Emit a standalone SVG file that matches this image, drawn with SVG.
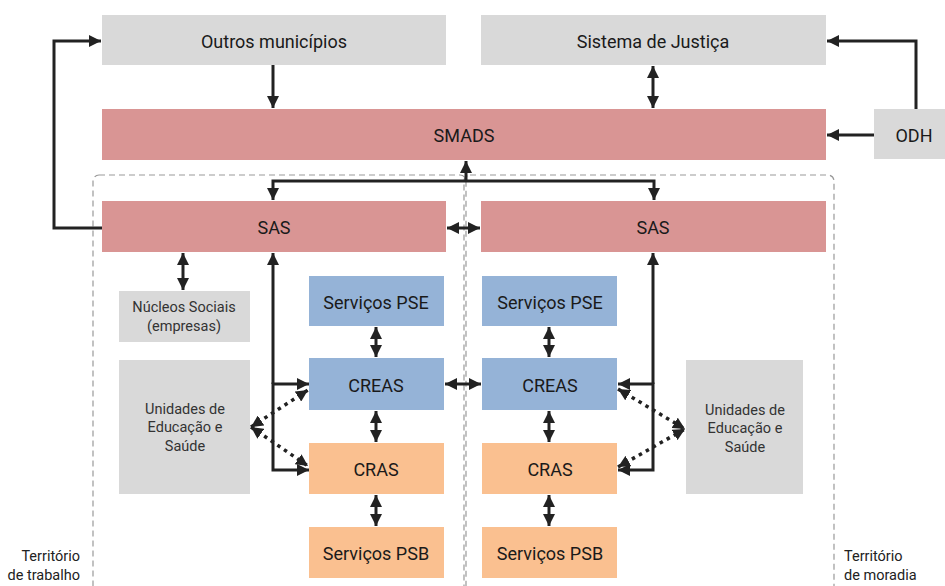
<svg xmlns="http://www.w3.org/2000/svg" width="945" height="586" viewBox="0 0 945 586">
<defs>
<style>
.t{font-family:Roboto,"Liberation Sans",sans-serif;font-size:18px;fill:#1a1a1a;text-anchor:middle;dominant-baseline:central}
.s{font-size:14.5px;fill:#333}
.g{fill:#d9d9d9}
.r{fill:#d99594}
.b{fill:#95b3d7}
.o{fill:#fac090}
.c{fill:none;stroke:#222;stroke-width:3}
.d{fill:none;stroke:#222;stroke-width:3.5;stroke-dasharray:3.5 4.5}
.frame{fill:none;stroke:#999;stroke-width:1.2;stroke-dasharray:6 4}
.lab{font-family:Roboto,"Liberation Sans",sans-serif;font-size:14.5px;fill:#222}
</style>
<marker id="a" viewBox="0 0 10 10" refX="10" refY="5" markerWidth="12" markerHeight="12" markerUnits="userSpaceOnUse" orient="auto-start-reverse">
<path d="M0,0 L10,5 L0,10 z" fill="#222"/>
</marker>
</defs>
<rect x="0" y="0" width="945" height="586" fill="#fff"/>
<g id="frames">
<rect class="frame" x="93" y="175" width="373" height="430" rx="6"/>
<rect class="frame" x="464" y="175" width="370" height="430" rx="6"/>
</g>
<g id="outros"><rect class="g" x="102" y="15" width="344" height="50"/><text class="t" x="274" y="41">Outros municípios</text></g>
<g id="justica"><rect class="g" x="481" y="15" width="345" height="50"/><text class="t" x="653" y="41">Sistema de Justiça</text></g>
<g id="smads"><rect class="r" x="102" y="109" width="724" height="51"/><text class="t" x="464" y="135">SMADS</text></g>
<g id="odh"><rect class="g" x="874" y="109" width="71" height="50"/><text class="t" x="914" y="135">ODH</text></g>
<g id="sas1"><rect class="r" x="102" y="201" width="344" height="51"/><text class="t" x="274" y="227">SAS</text></g>
<g id="sas2"><rect class="r" x="481" y="201" width="345" height="51"/><text class="t" x="653" y="227">SAS</text></g>
<g id="nucleos"><rect class="g" x="119" y="291" width="131" height="51"/><text class="t s" x="184" y="307">Núcleos Sociais</text><text class="t s" x="184" y="326">(empresas)</text></g>
<g id="unid1"><rect class="g" x="119" y="360" width="131" height="134"/><text class="t s" x="185" y="409">Unidades de</text><text class="t s" x="185" y="427">Educação e</text><text class="t s" x="185" y="446">Saúde</text></g>
<g id="unid2"><rect class="g" x="686" y="360" width="117" height="134"/><text class="t s" x="745" y="410">Unidades de</text><text class="t s" x="745" y="428">Educação e</text><text class="t s" x="745" y="447">Saúde</text></g>
<g id="pse1"><rect class="b" x="309" y="276" width="135" height="50"/><text class="t" x="376" y="302">Serviços PSE</text></g>
<g id="creas1"><rect class="b" x="309" y="358" width="135" height="52"/><text class="t" x="376" y="385">CREAS</text></g>
<g id="cras1"><rect class="o" x="309" y="443" width="135" height="51"/><text class="t" x="376" y="469">CRAS</text></g>
<g id="psb1"><rect class="o" x="309" y="527" width="135" height="51"/><text class="t" x="376" y="553">Serviços PSB</text></g>
<g id="pse2"><rect class="b" x="482" y="276" width="135" height="50"/><text class="t" x="550" y="302">Serviços PSE</text></g>
<g id="creas2"><rect class="b" x="482" y="358" width="135" height="52"/><text class="t" x="550" y="385">CREAS</text></g>
<g id="cras2"><rect class="o" x="482" y="443" width="135" height="51"/><text class="t" x="550" y="469">CRAS</text></g>
<g id="psb2"><rect class="o" x="482" y="527" width="135" height="51"/><text class="t" x="550" y="553">Serviços PSB</text></g>
<g id="labels">
<text class="lab" x="80" y="561" text-anchor="end">Território</text>
<text class="lab" x="80" y="580" text-anchor="end">de trabalho</text>
<text class="lab" x="844" y="561">Território</text>
<text class="lab" x="844" y="580">de moradia</text>
</g>
<g id="connectors">
<path class="c" d="M273,65 V108" marker-end="url(#a)"/>
<path class="c" d="M653,66 V108" marker-start="url(#a)" marker-end="url(#a)"/>
<path class="c" d="M916,109 V41 H827" marker-end="url(#a)"/>
<path class="c" d="M874,135 H827" marker-end="url(#a)"/>
<path class="c" d="M102,228 H54 V41 H101" marker-end="url(#a)"/>
<path class="c" d="M466,181 V161" marker-end="url(#a)"/>
<path class="c" d="M273,200 V181 H654 V200" marker-start="url(#a)" marker-end="url(#a)"/>
<path class="c" d="M447,228 H480" marker-start="url(#a)" marker-end="url(#a)"/>
<path class="c" d="M183,253 V290" marker-start="url(#a)" marker-end="url(#a)"/>
<path class="c" d="M309,384 H273 V470 H309" marker-start="url(#a)" marker-end="url(#a)"/>
<path class="c" d="M273,384 V253" marker-end="url(#a)"/>
<path class="c" d="M618,384 H653 V470 H618" marker-start="url(#a)" marker-end="url(#a)"/>
<path class="c" d="M653,384 V253" marker-end="url(#a)"/>
<path class="c" d="M376,327 V357" marker-start="url(#a)" marker-end="url(#a)"/>
<path class="c" d="M376,411 V442" marker-start="url(#a)" marker-end="url(#a)"/>
<path class="c" d="M376,495 V526" marker-start="url(#a)" marker-end="url(#a)"/>
<path class="c" d="M549,327 V357" marker-start="url(#a)" marker-end="url(#a)"/>
<path class="c" d="M549,411 V442" marker-start="url(#a)" marker-end="url(#a)"/>
<path class="c" d="M549,495 V526" marker-start="url(#a)" marker-end="url(#a)"/>
<path class="c" d="M445,384 H481" marker-start="url(#a)" marker-end="url(#a)"/>
<path class="d" d="M251,427 L308,390" marker-start="url(#a)" marker-end="url(#a)"/>
<path class="d" d="M251,427 L308,466" marker-start="url(#a)" marker-end="url(#a)"/>
<path class="d" d="M618,389 L685,429" marker-start="url(#a)" marker-end="url(#a)"/>
<path class="d" d="M618,467 L685,429" marker-start="url(#a)" marker-end="url(#a)"/>
</g>
</svg>
